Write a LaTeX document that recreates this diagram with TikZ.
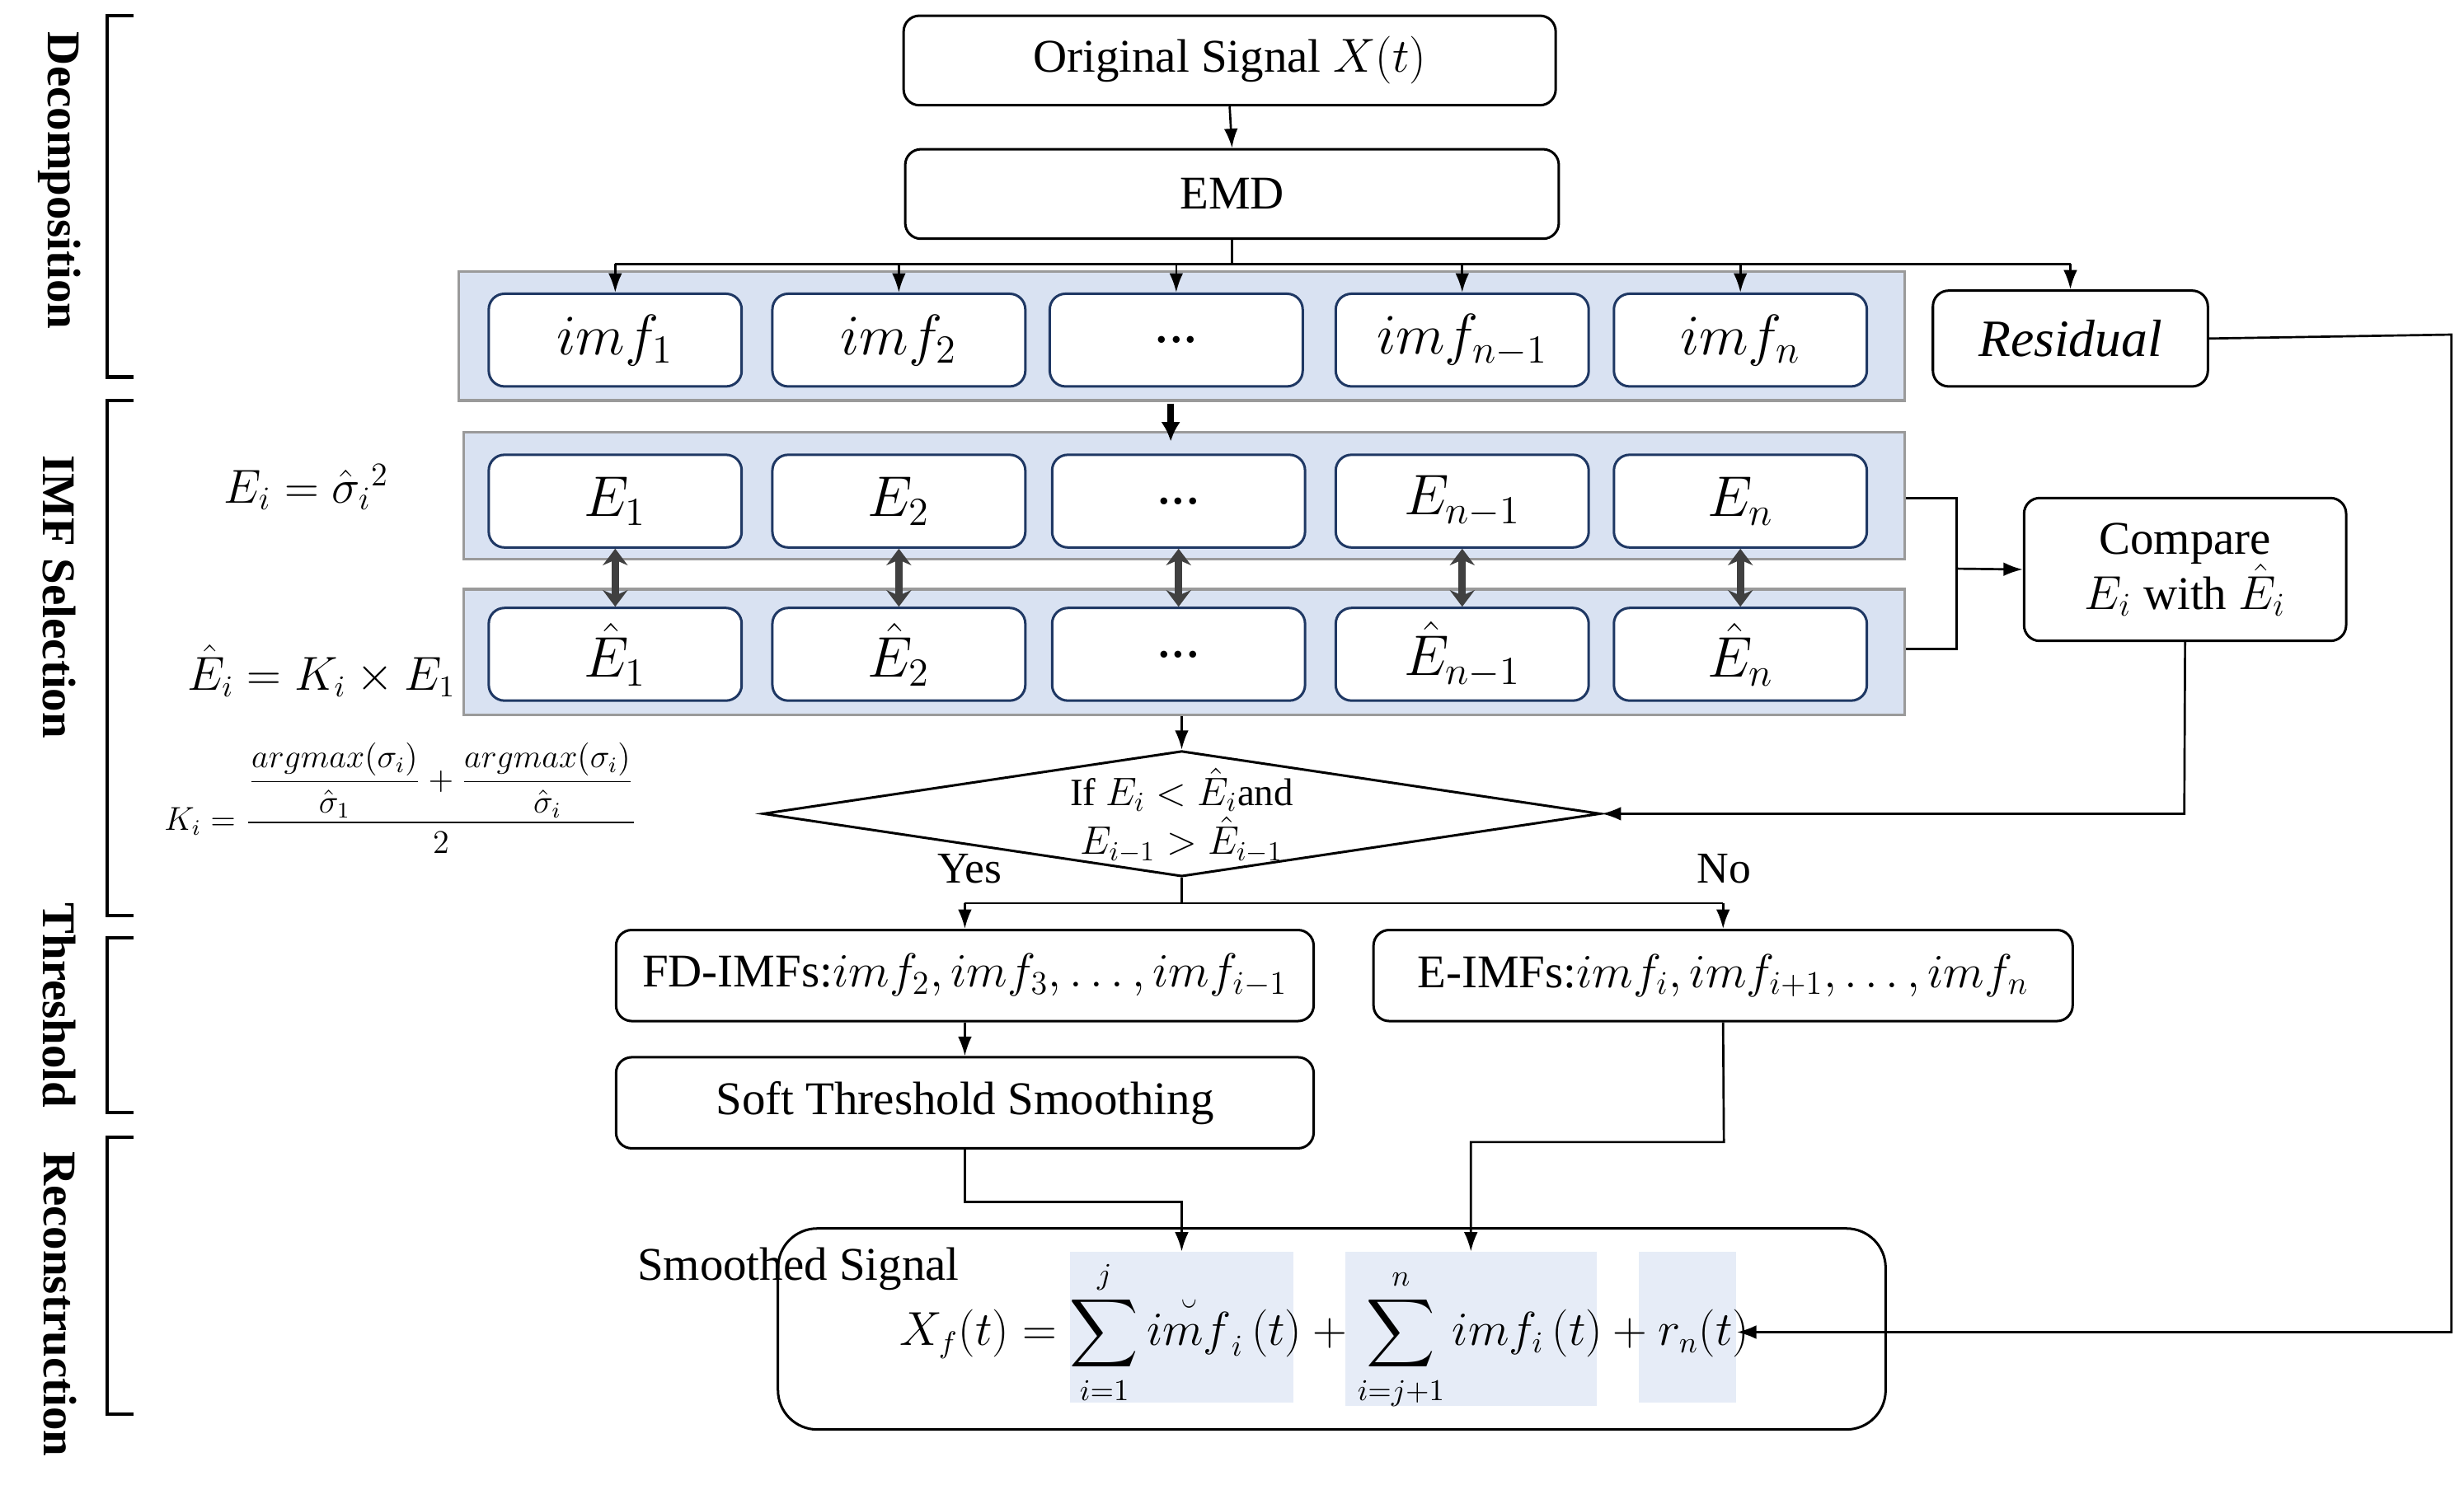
\documentclass[tikz,border=0pt]{standalone}
\usepackage{amsmath}
\usepackage{fontspec}
\setmainfont{Liberation Serif}
\usetikzlibrary{arrows.meta,shapes.geometric}
\definecolor{panelfill}{HTML}{D9E2F2}
\definecolor{panelline}{HTML}{9A9A9A}
\definecolor{boxline}{HTML}{1F3864}
\definecolor{hl}{HTML}{E6ECF7}
\begin{document}
\begin{tikzpicture}[x=0.02cm,y=-0.02cm,
  box/.style={draw,rounded corners=0.2cm,fill=white,line width=0.9pt,font=\fontsize{17}{20}\selectfont},
  ibox/.style={draw=boxline,rounded corners=0.2cm,fill=white,line width=0.9pt,minimum width=3.22cm,minimum height=1.18cm,font=\fontsize{21}{24}\selectfont},
  panel/.style={draw=panelline,fill=panelfill,line width=1pt},
  arr/.style={-{Latex[length=7pt,width=5pt]},line width=0.8pt},
  dbl/.style={{Stealth[length=6pt,width=9pt]}-{Stealth[length=6pt,width=9pt]},line width=2.8pt,draw=black!75},
  side/.style={rotate=-90,font=\fontsize{17}{20}\selectfont\bfseries},
  hlbox/.style={fill=hl,inner sep=0}]
\useasboundingbox (0,0) rectangle (1568,945);
% side brackets
\foreach \a/\b in {10/240,255/583,597/708,724/900}{
  \draw[line width=1.2pt] (85,\a) -- (68,\a) -- (68,\b) -- (85,\b);}
\node[side] (l1) at (38,115) {Decomposition};
\node[side] (l2) at (38,380) {IMF Selection};
\node[side] (l3) at (38,640) {Threshold};
\node[side] (l4) at (38,830) {Reconstruction};
% top
\node[box,minimum width=8.3cm,minimum height=1.14cm] (orig) at (782.5,38.5) {Original Signal $X(t)$};
\node[box,minimum width=8.32cm,minimum height=1.14cm] (emd) at (784,123.5) {EMD};
\draw[arr] (orig.south) -- (emd.north);
% panel 1
\node[panel,minimum width=18.4cm,minimum height=1.64cm] (p1) at (752,214) {};
\node[ibox] (imf1) at (391.5,216.5) {$imf_1$};
\node[ibox] (imf2) at (572,216.5) {$imf_2$};
\node[ibox] (imf3) at (748.5,216.5) {...};
\node[ibox] (imf4) at (930.5,216.5) {$imf_{n-1}$};
\node[ibox] (imf5) at (1107.5,216.5) {$imf_n$};
\node[box,minimum width=3.5cm,minimum height=1.22cm,font=\fontsize{19}{22}\selectfont] (res) at (1317.5,215.5) {$\mathit{Residual}$};
\draw[line width=0.8pt] (emd.south) -- (784,168);
\draw[line width=0.8pt] (391.5,168) -- (1317.5,168);
\foreach \n in {imf1,imf2,imf3,imf4,imf5,res}{\draw[arr] (\n.north |- 0,168) -- (\n.north);}
% panel 2 and 3
\node[panel,minimum width=18.34cm,minimum height=1.62cm] (p2) at (753.5,315.5) {};
\node[panel,minimum width=18.34cm,minimum height=1.6cm] (p3) at (753.5,415) {};
\draw[-{Latex[length=7pt,width=7pt]},line width=2.5pt] (745,257) -- (745,281);
\node[ibox] (e1) at (391.5,319) {$E_1$};
\node[ibox] (e2) at (572,319) {$E_2$};
\node[ibox] (e3) at (750,319) {...};
\node[ibox] (e4) at (930.5,319) {$E_{n-1}$};
\node[ibox] (e5) at (1107.5,319) {$E_n$};
\node[ibox] (h1) at (391.5,416.5) {$\hat E_1$};
\node[ibox] (h2) at (572,416.5) {$\hat E_2$};
\node[ibox] (h3) at (750,416.5) {...};
\node[ibox] (h4) at (930.5,416.5) {$\hat E_{n-1}$};
\node[ibox] (h5) at (1107.5,416.5) {$\hat E_n$};
\foreach \i in {1,...,5}{\draw[dbl] (e\i.south) -- (h\i.north);}
% left formulas
\node[font=\fontsize{17}{20}\selectfont] (f1) at (195,310) {$E_i=\hat\sigma_i{}^2$};
\node[font=\fontsize{16}{19}\selectfont,anchor=east,inner sep=1pt] (f2) at (292,427) {$\hat E_i=K_i\times E_1$};
\node[font=\fontsize{12}{14}\selectfont] (f3) at (255,508) {$K_i=\dfrac{\dfrac{argmax(\sigma_i)}{\hat\sigma_1}+\dfrac{argmax(\sigma_i)}{\hat\sigma_i}}{2}$};
% compare
\node[box,minimum width=4.1cm,minimum height=1.82cm,align=center] (cmp) at (1390.5,362.5) {Compare\\$E_i$ with $\hat E_i$};
\draw[line width=0.8pt] (p2.east |- 0,317) -- (1245,317) -- (1245,413) -- (p3.east |- 0,413);
\draw[arr] (1245,362) -- (cmp.west);
% diamond
\node[draw,diamond,aspect=6.66,minimum width=10.66cm,minimum height=1.6cm,inner sep=0,line width=0.9pt] (dia) at (752,518) {};
\node[align=center,font=\fontsize{14}{15}\selectfont,inner sep=0] (diat) at (752,519) {If $E_i<\hat E_i$and\\[1pt]$E_{i-1}>\hat E_{i-1}$};
\draw[arr] (p3.south -| dia.north) -- (dia.north);
\draw[arr] (cmp.south) -- (1390,518) -- (dia.east);
% yes / no
\node[box,minimum width=8.88cm,minimum height=1.16cm] (fd) at (614,621) {FD-IMFs:$imf_2,imf_3,\ldots,imf_{i-1}$};
\node[box,minimum width=8.9cm,minimum height=1.16cm] (ei) at (1096.5,621) {E-IMFs:$imf_i,imf_{i+1},\ldots,imf_n$};
\draw[line width=0.8pt] (dia.south) -- (752,575);
\draw[line width=0.8pt] (614,575) -- (1096.5,575);
\draw[arr] (614,575) -- (fd.north);
\draw[arr] (1096.5,575) -- (ei.north);
\node[font=\fontsize{16}{19}\selectfont] (yes) at (617,553) {Yes};
\node[font=\fontsize{16}{19}\selectfont] (no) at (1097,553) {No};
\node[box,minimum width=8.88cm,minimum height=1.16cm] (soft) at (614,702) {Soft Threshold Smoothing};
\draw[arr] (fd.south) -- (soft.north);
% final
\node[box,rounded corners=0.5cm,minimum width=14.1cm,minimum height=2.56cm] (fin) at (847.5,846) {};
\node[hlbox,minimum width=2.84cm,minimum height=1.92cm] (hA) at (752,845) {};
\node[hlbox,minimum width=3.2cm,minimum height=1.96cm] (hB) at (936,846) {};
\node[hlbox,minimum width=1.24cm,minimum height=1.92cm] (hC) at (1074,845) {};
\node[font=\fontsize{17}{20}\selectfont] (sm) at (508,808) {Smoothed Signal};
\node[font=\fontsize{16}{19}\selectfont,inner sep=0] (form) at (843,850) {$\displaystyle X_f(t)=\sum_{i=1}^{j}\breve{imf}_i\,(t)+\sum_{i=j+1}^{n}imf_i\,(t)+r_n(t)$};
\draw[arr] (soft.south) -- (614,765) -- (752,765) -- (hA.north);
\draw[arr] (ei.south) -- (1097,727) -- (936,727) -- (hB.north);
\draw[arr] (res.east) -- (1560,213) -- (1560,848) -- (hC.east |- 0,848);
\end{tikzpicture}
\end{document}
